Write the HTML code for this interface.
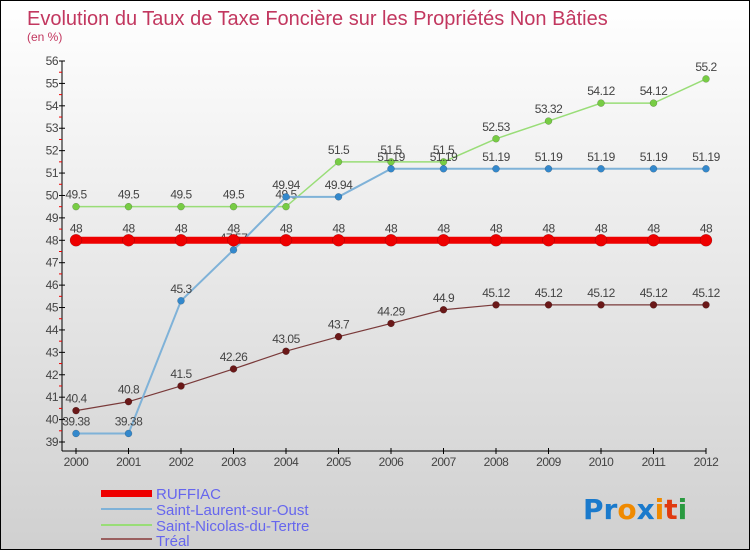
<!DOCTYPE html>
<html><head><meta charset="utf-8"><style>
html,body{margin:0;padding:0}
#c{width:750px;height:550px;position:relative;overflow:hidden;box-sizing:border-box;border:1px solid #000;background:linear-gradient(#ffffff,#d0d0d0);font-family:"Liberation Sans",sans-serif}
</style></head><body>
<div id="c">
<svg id="s" width="750" height="550" style="position:absolute;left:0;top:0">
<text x="26" y="24" font-size="20" fill="#c2375f">Evolution du Taux de Taxe Foncière sur les Propriétés Non Bâties</text>
<text x="26" y="40" font-size="12" fill="#c2375f">(en %)</text>
<g id="axes"></g><g id="series"></g>
<g>
<rect x="100" y="489" width="51" height="7" fill="#ee0000"/>
<text x="155" y="498" font-size="15" fill="#6666ee">RUFFIAC</text>
<rect x="100" y="507" width="51" height="2" fill="#7fb2d8"/>
<text x="155" y="514" font-size="15" fill="#6666ee">Saint-Laurent-sur-Oust</text>
<rect x="100" y="523" width="51" height="2" fill="#99dd77"/>
<text x="155" y="530" font-size="15" fill="#6666ee">Saint-Nicolas-du-Tertre</text>
<rect x="100" y="537" width="51" height="2" fill="#9a6060"/>
<text x="155" y="545" font-size="15" fill="#6666ee">Tréal</text>
</g>
<text x="582" y="518" font-size="28" font-weight="bold" font-family="'DejaVu Sans',sans-serif"><tspan fill="#1a7acc">Pr</tspan><tspan fill="#f08a00">o</tspan><tspan fill="#1a7acc">x</tspan><tspan fill="#f08a00">i</tspan><tspan fill="#e03a10">t</tspan><tspan fill="#2a9a40">i</tspan></text>
</svg>
</div>
<script>
const years=[2000,2001,2002,2003,2004,2005,2006,2007,2008,2009,2010,2011,2012];
const ruffiac=[48,48,48,48,48,48,48,48,48,48,48,48,48];
const laurent=[39.38,39.38,45.3,47.57,49.94,49.94,51.19,51.19,51.19,51.19,51.19,51.19,51.19];
const nicolas=[49.5,49.5,49.5,49.5,49.5,51.5,51.5,51.5,52.53,53.32,54.12,54.12,55.2];
const treal=[40.4,40.8,41.5,42.26,43.05,43.7,44.29,44.9,45.12,45.12,45.12,45.12,45.12];
const yTicks=[39,40,41,42,43,44,45,46,47,48,49,50,51,52,53,54,55,56];
const NS="http://www.w3.org/2000/svg";
const xs=i=>75+i*(705-75)/(years.length-1);
const ys=v=>60+(56-v)*(441-60)/17;
function mk(t,a,p){const e=document.createElementNS(NS,t);for(const k in a)e.setAttribute(k,a[k]);p.appendChild(e);return e;}
const ax=document.getElementById('axes'),sg=document.getElementById('series');
let l=mk('line',{x1:61,y1:60,x2:61,y2:450,stroke:'#000'},ax);


l=mk('line',{x1:61,y1:450,x2:705,y2:450,stroke:'#000'},ax);


yTicks.forEach((v,i)=>{const y=ys(v);
 mk('line',{x1:58,y1:y,x2:64,y2:y,stroke:'#000'},ax);
 if(i<yTicks.length-1)mk('line',{x1:58,y1:y-11.2,x2:61,y2:y-11.2,stroke:'#e00'},ax);
 const t=mk('text',{x:57,y:y+4,'font-size':12,fill:'#444','text-anchor':'end','letter-spacing':'-0.5'},ax);t.textContent=v;
 
 });
years.forEach((yr,i)=>{const x=xs(i);
 mk('line',{x1:x,y1:447,x2:x,y2:453,stroke:'#000'},ax);
 const t=mk('text',{x:x,y:465,'font-size':12,fill:'#444','text-anchor':'middle','letter-spacing':'-0.5'},ax);t.textContent=yr;
 
 });
function series(vals,col,dot,w,r,name){
 const pl=mk('polyline',{points:vals.map((v,i)=>xs(i)+','+ys(v)).join(' '),fill:'none',stroke:col,'stroke-width':w},sg);
 
 
 vals.forEach((v,i)=>{const c=mk('circle',{cx:xs(i),cy:ys(v),r:r,fill:dot,stroke:'rgba(0,0,0,0.3)','stroke-width':0.5},sg);
  
  
  const t=mk('text',{x:xs(i),y:ys(v)-8,'font-size':12,fill:'#444','text-anchor':'middle','letter-spacing':'-0.5'},sg);t.textContent=v;
  
  });
}
series(treal,'#7a3a3a','#6a1818',1.2,3.5,'treal');
series(nicolas,'#99dd77','#77cc44',1.5,3.5,'saint-nicolas');
series(laurent,'#7fb2d8','#3388cc',2,3.5,'saint-laurent');
series(ruffiac,'#ee0000','#ee0000',7,6,'ruffiac');
</script>
</body></html>
